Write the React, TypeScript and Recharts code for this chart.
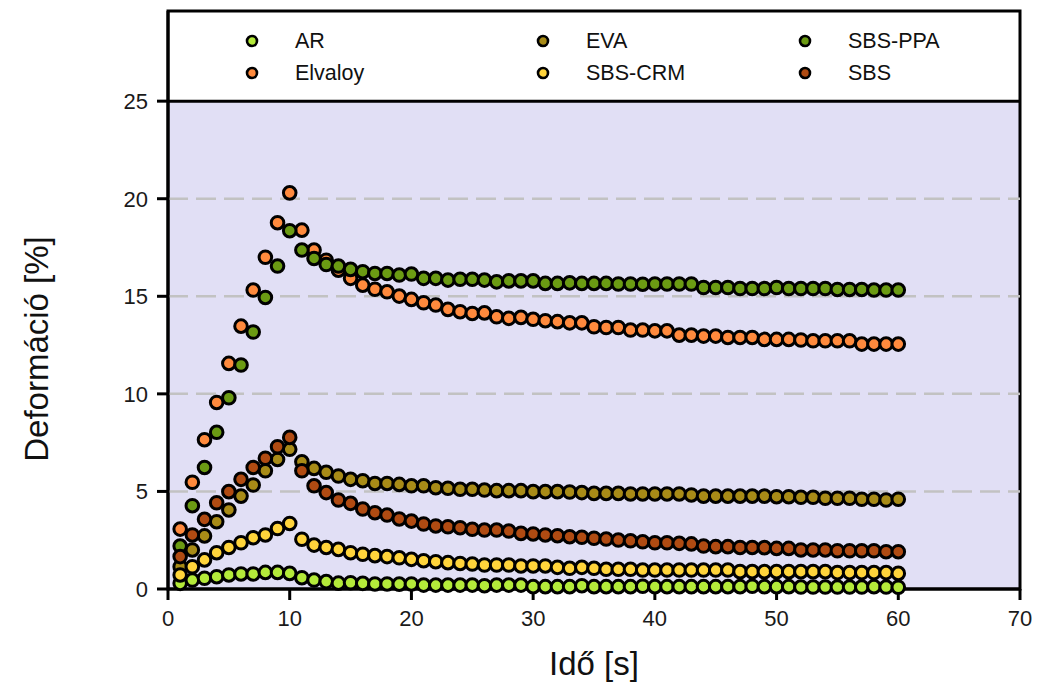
import { ScatterChart, Scatter, XAxis, YAxis, ReferenceArea, ReferenceLine, Legend } from "recharts";

const FONT = '"Liberation Sans", Arial, sans-serif';

// time axis, seconds
const times = [
  1, 2, 3, 4, 5, 6, 7, 8, 9, 10, 11, 12, 13, 14, 15, 16, 17, 18, 19, 20,
  21, 22, 23, 24, 25, 26, 27, 28, 29, 30, 31, 32, 33, 34, 35, 36, 37, 38, 39, 40,
  41, 42, 43, 44, 45, 46, 47, 48, 49, 50, 51, 52, 53, 54, 55, 56, 57, 58, 59, 60,
];

const arValues = [
  0.29, 0.46, 0.55, 0.63, 0.72, 0.77, 0.77, 0.85, 0.85, 0.8, 0.58, 0.46, 0.38, 0.3, 0.32, 0.29, 0.26, 0.26, 0.25, 0.26,
  0.2, 0.2, 0.2, 0.2, 0.2, 0.17, 0.2, 0.2, 0.2, 0.12, 0.12, 0.12, 0.12, 0.17, 0.12, 0.12, 0.12, 0.12, 0.14, 0.12,
  0.12, 0.12, 0.12, 0.12, 0.12, 0.12, 0.12, 0.14, 0.12, 0.12, 0.12, 0.1, 0.1, 0.1, 0.1, 0.1, 0.1, 0.12, 0.1, 0.09,
];

const elvaloyValues = [
  3.07, 5.47, 7.65, 9.56, 11.56, 13.47, 15.32, 17.0, 18.77, 20.3, 18.39, 17.37, 16.85, 16.34, 15.92, 15.57, 15.36, 15.23, 15.01, 14.84,
  14.67, 14.55, 14.33, 14.21, 14.12, 14.15, 13.95, 13.87, 13.92, 13.82, 13.75, 13.7, 13.64, 13.64, 13.44, 13.4, 13.4, 13.27, 13.27, 13.23,
  13.23, 13.01, 13.01, 12.96, 12.96, 12.89, 12.89, 12.89, 12.79, 12.79, 12.79, 12.76, 12.72, 12.72, 12.72, 12.72, 12.55, 12.55, 12.55, 12.55,
];

const evaValues = [
  1.14, 2.0, 2.72, 3.45, 4.05, 4.76, 5.33, 6.06, 6.64, 7.16, 6.52, 6.18, 5.98, 5.79, 5.62, 5.55, 5.41, 5.41, 5.36, 5.29,
  5.29, 5.19, 5.16, 5.11, 5.11, 5.07, 5.04, 5.04, 5.04, 4.99, 4.99, 4.99, 4.97, 4.94, 4.9, 4.9, 4.9, 4.87, 4.87, 4.87,
  4.87, 4.87, 4.82, 4.76, 4.76, 4.76, 4.76, 4.76, 4.76, 4.73, 4.73, 4.7, 4.7, 4.65, 4.65, 4.65, 4.6, 4.6, 4.56, 4.6,
];

const sbsCrmValues = [
  0.72, 1.14, 1.49, 1.86, 2.13, 2.37, 2.63, 2.77, 3.1, 3.36, 2.55, 2.25, 2.13, 2.03, 1.86, 1.78, 1.71, 1.66, 1.6, 1.52,
  1.45, 1.4, 1.35, 1.31, 1.28, 1.23, 1.23, 1.23, 1.18, 1.18, 1.18, 1.11, 1.06, 1.11, 1.06, 1.01, 1.01, 1.01, 0.97, 0.97,
  0.97, 0.97, 0.97, 0.97, 0.97, 0.97, 0.89, 0.89, 0.89, 0.89, 0.89, 0.89, 0.89, 0.89, 0.84, 0.84, 0.84, 0.84, 0.84, 0.8,
];

const sbsPpaValues = [
  2.2, 4.27, 6.23, 8.03, 9.8, 11.48, 13.17, 14.94, 16.55, 18.36, 17.37, 16.94, 16.63, 16.55, 16.38, 16.26, 16.17, 16.17, 16.09, 16.14,
  15.92, 15.92, 15.83, 15.87, 15.87, 15.83, 15.74, 15.79, 15.79, 15.79, 15.66, 15.66, 15.69, 15.66, 15.66, 15.66, 15.63, 15.63, 15.62, 15.63,
  15.63, 15.63, 15.63, 15.45, 15.45, 15.45, 15.4, 15.4, 15.4, 15.45, 15.4, 15.4, 15.4, 15.4, 15.35, 15.35, 15.35, 15.32, 15.32, 15.32,
];

const sbsValues = [
  1.66, 2.77, 3.57, 4.42, 4.99, 5.62, 6.23, 6.7, 7.29, 7.77, 6.06, 5.29, 4.94, 4.56, 4.39, 4.1, 3.91, 3.79, 3.59, 3.48,
  3.33, 3.23, 3.19, 3.14, 3.06, 3.02, 3.02, 2.97, 2.85, 2.82, 2.77, 2.73, 2.68, 2.65, 2.6, 2.56, 2.51, 2.47, 2.42, 2.37,
  2.37, 2.34, 2.31, 2.2, 2.17, 2.17, 2.13, 2.13, 2.12, 2.08, 2.08, 2.0, 2.0, 2.0, 1.96, 1.96, 1.96, 1.96, 1.91, 1.91,
];

const seriesNames = ["AR", "Elvaloy", "EVA", "SBS-CRM", "SBS-PPA", "SBS"];
const seriesValues = [arValues, elvaloyValues, evaValues, sbsCrmValues, sbsPpaValues, sbsValues];
const seriesColors = ["#b4ea3a", "#ff8a3d", "#a88b17", "#ffd43b", "#6b9b13", "#b04b12"];

const xTicks = [0, 10, 20, 30, 40, 50, 60, 70];
const yTicks = [0, 5, 10, 15, 20, 25];
const gridValues = [5, 10, 15, 20];

const Y_TOP = 29.62; // frame top, legend sits above y = 25

function toPoints(values: number[]) {
  return values.map((v, i) => ({ t: times[i], v }));
}

function makeDot(color: string) {
  return (props: any) => (
    <circle cx={props.cx} cy={props.cy} r={6.3} fill={color} stroke="#000" strokeWidth={3} />
  );
}

function renderLegend() {
  // 3 columns x 2 rows, filled column by column
  const colX = [84, 375, 637];
  const rowY = [30, 62];
  return (
    <div style={{ position: "relative", width: 852, height: 90, fontFamily: FONT }}>
      {seriesNames.map((name, i) => {
        const col = Math.floor(i / 2);
        const row = i % 2;
        return (
          <div
            key={name}
            style={{
              position: "absolute",
              left: colX[col] - 7,
              top: rowY[row] - 12,
              height: 24,
              display: "flex",
              alignItems: "center",
              whiteSpace: "nowrap",
            }}
          >
            <svg width={14} height={14}>
              <circle cx={7} cy={7} r={5} fill={seriesColors[i]} stroke="#000" strokeWidth={2.6} />
            </svg>
            <span style={{ marginLeft: 36, fontSize: 21.5, color: "#111" }}>{name}</span>
          </div>
        );
      })}
    </div>
  );
}

const tickStyle = { fontSize: 22, fill: "#1a1a1a", fontFamily: FONT };

export default function App() {
  return (
    <div style={{ position: "absolute", left: 0, top: 0, background: "#fff" }}>
      <ScatterChart width={1039} height={689} margin={{ top: 11, right: 19, bottom: 0, left: 0 }}>
        <ReferenceArea x1={0} x2={70} y1={0} y2={25} fill="#e1dff5" fillOpacity={1} stroke="none" />
        {gridValues.map((g) => (
          <ReferenceLine key={g} y={g} stroke="#c2c2c2" strokeWidth={2.5} strokeDasharray="20 8" />
        ))}
        <XAxis
          type="number"
          dataKey="t"
          domain={[0, 70]}
          ticks={xTicks}
          height={100}
          tickSize={11}
          tickMargin={10}
          axisLine={{ stroke: "#000", strokeWidth: 3 }}
          tickLine={{ stroke: "#000", strokeWidth: 3 }}
          tick={tickStyle}
          label={{
            content: (p: any) => {
              const vb = p.viewBox;
              return (
                <text
                  x={vb.x + vb.width / 2}
                  y={vb.y + 74}
                  textAnchor="middle"
                  dominantBaseline="central"
                  fontSize={33}
                  fontFamily={FONT}
                  fill="#111"
                >
                  Idő [s]
                </text>
              );
            },
          }}
        />
        <YAxis
          type="number"
          dataKey="v"
          domain={[0, Y_TOP]}
          ticks={yTicks}
          width={168}
          tickSize={11}
          tickMargin={9}
          axisLine={{ stroke: "#000", strokeWidth: 3 }}
          tickLine={{ stroke: "#000", strokeWidth: 3 }}
          tick={tickStyle}
          label={{
            content: (p: any) => {
              const vb = p.viewBox;
              const cx = 36;
              const cy = vb.y + vb.height - 240;
              return (
                <text
                  x={cx}
                  y={cy}
                  transform={`rotate(-90 ${cx} ${cy})`}
                  textAnchor="middle"
                  dominantBaseline="central"
                  fontSize={33}
                  fontFamily={FONT}
                  fill="#111"
                >
                  Deformáció [%]
                </text>
              );
            },
          }}
        />
        <ReferenceLine y={25} stroke="#000" strokeWidth={3} />
        <ReferenceArea x1={0} x2={70} y1={0} y2={Y_TOP} fill="none" stroke="#000" strokeWidth={3} />
        {seriesNames.map((name, i) => (
          <Scatter
            key={name}
            name={name}
            data={toPoints(seriesValues[i])}
            fill={seriesColors[i]}
            shape={makeDot(seriesColors[i])}
            isAnimationActive={false}
          />
        ))}
        <Legend
          layout="vertical"
          align="center"
          verticalAlign="middle"
          wrapperStyle={{ left: 168, top: 11, width: 852, height: 90 }}
          content={renderLegend}
        />
      </ScatterChart>
    </div>
  );
}
